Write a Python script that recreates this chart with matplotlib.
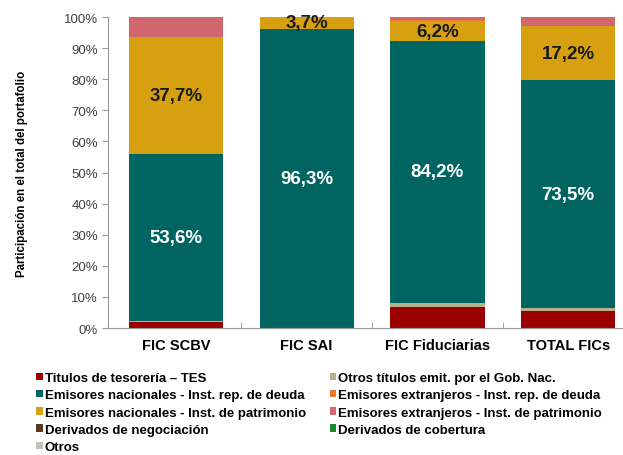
import matplotlib.pyplot as plt
import numpy as np

plt.rcParams['font.family'] = ['Liberation Sans', 'DejaVu Sans']

funds = ['FIC SCBV', 'FIC SAI', 'FIC Fiduciarias', 'TOTAL FICs']

# percent of portfolio, bottom to top
tes = [2.0, 0.0, 6.8, 5.4]
otros_gob = [0.3, 0.0, 1.4, 0.9]
nac_deuda = [53.6, 96.3, 84.2, 73.5]
nac_patrimonio = [37.7, 3.7, 6.2, 17.2]
ext_deuda = [0.0, 0.0, 0.5, 0.0]
ext_patrimonio = [6.4, 0.0, 0.9, 3.0]
der_negociacion = [0.0, 0.0, 0.0, 0.0]
der_cobertura = [0.0, 0.0, 0.0, 0.0]
otros = [0.0, 0.0, 0.0, 0.0]

series = [
    ('Titulos de tesorería – TES', tes, '#9b0000'),
    ('Otros títulos emit. por el Gob. Nac.', otros_gob, '#b8b08a'),
    ('Emisores nacionales - Inst. rep. de deuda', nac_deuda, '#006561'),
    ('Emisores nacionales - Inst. de patrimonio', nac_patrimonio, '#d6a010'),
    ('Emisores extranjeros - Inst. rep. de deuda', ext_deuda, '#e8782a'),
    ('Emisores extranjeros - Inst. de patrimonio', ext_patrimonio, '#d2686f'),
    ('Derivados de negociación', der_negociacion, '#5a3a1a'),
    ('Derivados de cobertura', der_cobertura, '#1a8a2a'),
    ('Otros', otros, '#c4c2b8'),
]

fig = plt.figure(figsize=(6.23, 4.56), dpi=100)
ax = fig.add_axes([0.173, 0.2785, 0.84, 0.682])

x = np.arange(len(funds))
bottom = np.zeros(len(funds))
handles = {}
for name, vals, col in series:
    vals = np.array(vals)
    b = ax.bar(x, vals, 0.72, bottom=bottom, color=col, label=name)
    handles[name] = b
    if name.startswith('Emisores nacionales'):
        txtcol = 'white' if 'deuda' in name else '#1a1a1a'
        for xi, v, b0 in zip(x, vals, bottom):
            ax.text(xi, b0 + v / 2, f'{v:.1f}%'.replace('.', ','), ha='center',
                    va='center', color=txtcol, fontsize=13.5, fontweight='bold')
    bottom += vals

ax.set_xlim(-0.52, 3.48)
ax.set_ylim(0, 100)
ax.set_yticks(np.arange(0, 101, 10))
ax.set_yticklabels([f'{v}%' for v in range(0, 101, 10)], fontsize=9.5, color='#404040')
ax.set_xticks(x)
ax.set_xticklabels(funds, fontsize=10.5, fontweight='bold')
ax.set_xticks([0.5, 1.5, 2.5], minor=True)
ax.tick_params(axis='x', which='major', length=0, pad=7)
ax.tick_params(axis='x', which='minor', length=4, direction='in', color='#999999')
ax.tick_params(axis='y', length=4, color='#999999', pad=3)
for s in ['top', 'right']:
    ax.spines[s].set_visible(False)
ax.spines['left'].set_color('#999999')
ax.spines['bottom'].set_color('#999999')
ax.set_ylabel('Participación en el total del portafolio', fontsize=8.3,
              fontweight='bold', labelpad=26)

order = ['Titulos de tesorería – TES',
         'Emisores nacionales - Inst. rep. de deuda',
         'Emisores nacionales - Inst. de patrimonio',
         'Derivados de negociación',
         'Otros',
         'Otros títulos emit. por el Gob. Nac.',
         'Emisores extranjeros - Inst. rep. de deuda',
         'Emisores extranjeros - Inst. de patrimonio',
         'Derivados de cobertura']
fig.legend([handles[n] for n in order], order, ncol=2, loc='upper left',
           bbox_to_anchor=(0.058, 0.182), frameon=False,
           prop={'size': 9.5, 'weight': 'bold'}, handlelength=0.5,
           handleheight=0.5, handletextpad=0.15, columnspacing=1.8,
           labelspacing=0.4, borderaxespad=0, borderpad=0)

fig.savefig('out.png', dpi=100)
